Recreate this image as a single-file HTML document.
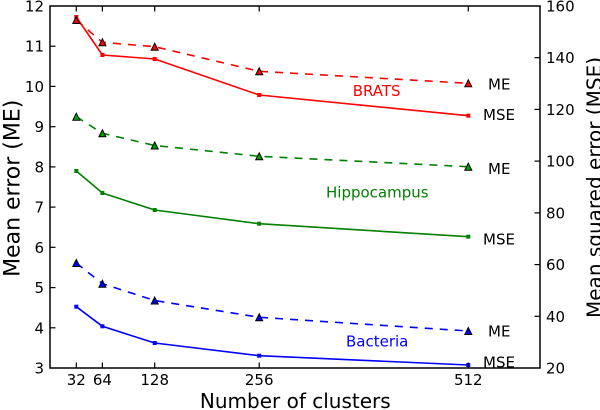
<!DOCTYPE html>
<html>
<head>
<meta charset="utf-8">
<style>
  html, body { margin: 0; padding: 0; background: #ffffff; }
  svg { display: block; }
  text { font-family: "DejaVu Sans", "Liberation Sans", sans-serif; }
</style>
</head>
<body>
<svg width="600" height="410" viewBox="0 0 600 410" xmlns="http://www.w3.org/2000/svg">
  <rect x="0" y="0" width="600" height="410" fill="#ffffff"/>

  <!-- Data lines -->
  <!-- BRATS MSE -->
  <polyline fill="none" stroke="#ff0000" stroke-width="1.6" stroke-linejoin="round"
    points="76.3,17 102.4,55 154.7,59 259.2,95 468.3,115.7"/>
  <!-- BRATS ME -->
  <polyline fill="none" stroke="#ff0000" stroke-width="1.6" stroke-dasharray="8,7"
    points="76.3,20 102.4,42.3 154.7,46.7 259.2,71.3 468.3,83.3"/>
  <!-- Hippocampus MSE -->
  <polyline fill="none" stroke="#008000" stroke-width="1.6" stroke-linejoin="round"
    points="76.3,171 102.4,193 154.7,210 259.2,223.7 468.3,236.7"/>
  <!-- Hippocampus ME -->
  <polyline fill="none" stroke="#008000" stroke-width="1.6" stroke-dasharray="8,7"
    points="76.3,116.7 102.4,133.3 154.7,145.5 259.2,156.3 468.3,166.7"/>
  <!-- Bacteria MSE -->
  <polyline fill="none" stroke="#0000ff" stroke-width="1.6" stroke-linejoin="round"
    points="76.3,306.7 102.4,326.3 154.7,343 259.2,355.7 468.3,365"/>
  <!-- Bacteria ME -->
  <polyline fill="none" stroke="#0000ff" stroke-width="1.6" stroke-dasharray="8,7"
    points="76.3,263 102.4,283.7 154.7,300.5 259.2,317.3 468.3,331"/>

  <!-- Square markers -->
  <g fill="#ff0000">
    <rect x="74.3" y="15" width="4" height="4"/>
    <rect x="100.4" y="53" width="4" height="4"/>
    <rect x="152.7" y="57" width="4" height="4"/>
    <rect x="257.2" y="93" width="4" height="4"/>
    <rect x="466.3" y="113.7" width="4" height="4"/>
  </g>
  <g fill="#008000">
    <rect x="74.3" y="169" width="4" height="4"/>
    <rect x="100.4" y="191" width="4" height="4"/>
    <rect x="152.7" y="208" width="4" height="4"/>
    <rect x="257.2" y="221.7" width="4" height="4"/>
    <rect x="466.3" y="234.7" width="4" height="4"/>
  </g>
  <g fill="#0000ff">
    <rect x="74.3" y="304.7" width="4" height="4"/>
    <rect x="100.4" y="324.3" width="4" height="4"/>
    <rect x="152.7" y="341" width="4" height="4"/>
    <rect x="257.2" y="353.7" width="4" height="4"/>
    <rect x="466.3" y="363" width="4" height="4"/>
  </g>

  <!-- Triangle markers -->
  <g stroke="#000000" stroke-width="1" stroke-linejoin="miter">
    <g fill="#ff0000">
      <polygon points="76.3,16.5 72.8,23.5 79.8,23.5"/>
      <polygon points="102.4,38.8 98.9,45.8 105.9,45.8"/>
      <polygon points="154.7,43.2 151.2,50.2 158.2,50.2"/>
      <polygon points="259.2,67.8 255.7,74.8 262.7,74.8"/>
      <polygon points="468.3,79.8 464.8,86.8 471.8,86.8"/>
    </g>
    <g fill="#00a000">
      <polygon points="76.3,113.2 72.8,120.2 79.8,120.2"/>
      <polygon points="102.4,129.8 98.9,136.8 105.9,136.8"/>
      <polygon points="154.7,142 151.2,149 158.2,149"/>
      <polygon points="259.2,152.8 255.7,159.8 262.7,159.8"/>
      <polygon points="468.3,163.2 464.8,170.2 471.8,170.2"/>
    </g>
    <g fill="#0000ff">
      <polygon points="76.3,259.5 72.8,266.5 79.8,266.5"/>
      <polygon points="102.4,280.2 98.9,287.2 105.9,287.2"/>
      <polygon points="154.7,297 151.2,304 158.2,304"/>
      <polygon points="259.2,313.8 255.7,320.8 262.7,320.8"/>
      <polygon points="468.3,327.5 464.8,334.5 471.8,334.5"/>
    </g>
  </g>

  <!-- Axes frame -->
  <rect x="50" y="6" width="490" height="362" fill="none" stroke="#000000" stroke-width="1.5"/>

  <!-- Ticks -->
  <g stroke="#000000" stroke-width="1.2">
    <!-- bottom & top x ticks -->
    <line x1="76.3" y1="368" x2="76.3" y2="362.5"/>
    <line x1="102.4" y1="368" x2="102.4" y2="362.5"/>
    <line x1="154.7" y1="368" x2="154.7" y2="362.5"/>
    <line x1="259.2" y1="368" x2="259.2" y2="362.5"/>
    <line x1="468.3" y1="368" x2="468.3" y2="362.5"/>
    <line x1="76.3" y1="6" x2="76.3" y2="11.5"/>
    <line x1="102.4" y1="6" x2="102.4" y2="11.5"/>
    <line x1="154.7" y1="6" x2="154.7" y2="11.5"/>
    <line x1="259.2" y1="6" x2="259.2" y2="11.5"/>
    <line x1="468.3" y1="6" x2="468.3" y2="11.5"/>
    <!-- left ticks -->
    <line x1="50" y1="46.2" x2="55.5" y2="46.2"/>
    <line x1="50" y1="86.4" x2="55.5" y2="86.4"/>
    <line x1="50" y1="126.7" x2="55.5" y2="126.7"/>
    <line x1="50" y1="166.9" x2="55.5" y2="166.9"/>
    <line x1="50" y1="207.1" x2="55.5" y2="207.1"/>
    <line x1="50" y1="247.3" x2="55.5" y2="247.3"/>
    <line x1="50" y1="287.6" x2="55.5" y2="287.6"/>
    <line x1="50" y1="327.8" x2="55.5" y2="327.8"/>
    <!-- right ticks -->
    <line x1="540" y1="57.7" x2="534.5" y2="57.7"/>
    <line x1="540" y1="109.4" x2="534.5" y2="109.4"/>
    <line x1="540" y1="161.1" x2="534.5" y2="161.1"/>
    <line x1="540" y1="212.9" x2="534.5" y2="212.9"/>
    <line x1="540" y1="264.6" x2="534.5" y2="264.6"/>
    <line x1="540" y1="316.3" x2="534.5" y2="316.3"/>
  </g>

  <!-- Left tick labels -->
  <g font-size="15" fill="#000000" text-anchor="end">
    <text x="44" y="11.5">12</text>
    <text x="44" y="51.7">11</text>
    <text x="44" y="91.9">10</text>
    <text x="44" y="132.2">9</text>
    <text x="44" y="172.4">8</text>
    <text x="44" y="212.6">7</text>
    <text x="44" y="252.8">6</text>
    <text x="44" y="293.1">5</text>
    <text x="44" y="333.3">4</text>
    <text x="44" y="373.5">3</text>
  </g>

  <!-- Right tick labels -->
  <g font-size="15" fill="#000000" text-anchor="start">
    <text x="546" y="11.5">160</text>
    <text x="546" y="63.2">140</text>
    <text x="546" y="114.9">120</text>
    <text x="546" y="166.6">100</text>
    <text x="546" y="218.4">80</text>
    <text x="546" y="270.1">60</text>
    <text x="546" y="321.8">40</text>
    <text x="546" y="373.5">20</text>
  </g>

  <!-- X tick labels -->
  <g font-size="15" fill="#000000" text-anchor="middle">
    <text x="76.3" y="385">32</text>
    <text x="102.4" y="385">64</text>
    <text x="154.7" y="385">128</text>
    <text x="259.2" y="385">256</text>
    <text x="468.3" y="385">512</text>
  </g>

  <!-- Axis titles -->
  <text x="295.3" y="408" font-size="20" text-anchor="middle" fill="#000000">Number of clusters</text>
  <text transform="translate(19.3,188.3) rotate(-90)" font-size="22" text-anchor="middle" fill="#000000">Mean error (ME)</text>
  <text transform="translate(601.5,187.5) rotate(-90)" font-size="20" text-anchor="middle" fill="#000000">Mean squared error (MSE)</text>

  <!-- Series annotations -->
  <g font-size="15" fill="#000000">
    <text x="488" y="89.3">ME</text>
    <text x="483" y="120">MSE</text>
    <text x="488" y="174">ME</text>
    <text x="483" y="244.3">MSE</text>
    <text x="488" y="336.7">ME</text>
    <text x="483" y="367.7">MSE</text>
  </g>
  <text x="352.7" y="96" font-size="15" fill="#ff0000">BRATS</text>
  <text x="326" y="197.7" font-size="15" fill="#008000">Hippocampus</text>
  <text x="346" y="346.7" font-size="15" fill="#0000ff">Bacteria</text>
</svg>
</body>
</html>
